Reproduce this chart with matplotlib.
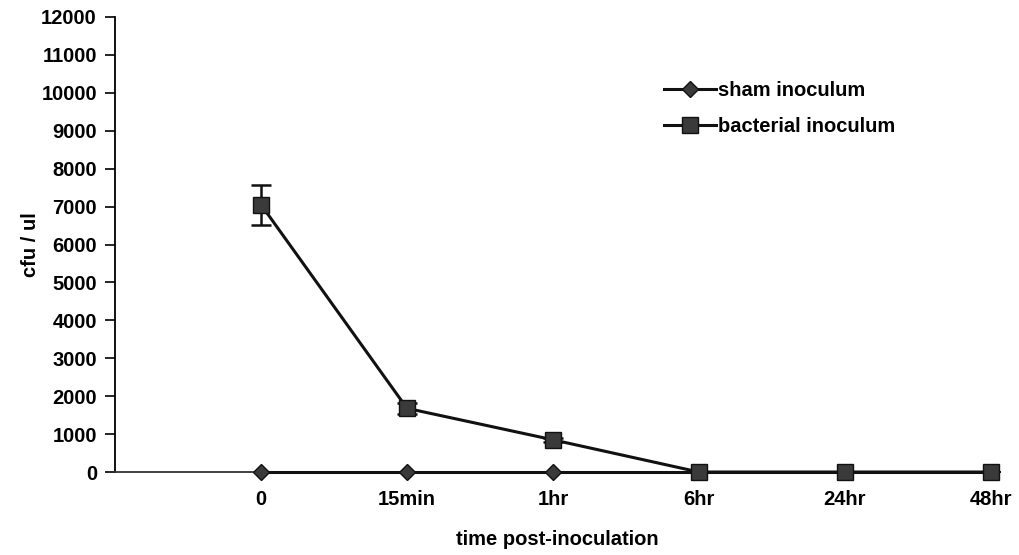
import matplotlib
matplotlib.use("Agg")
import matplotlib.pyplot as plt
from matplotlib.lines import Line2D

categories = ["0", "15min", "1hr", "6hr", "24hr", "48hr"]
sham = [0, 0, 0, 0, 0, 0]
bacterial = [7050, 1680, 850, 0, 0, 0]
bacterial_err = [530, 150, 60, 0, 0, 0]
yticks = list(range(0, 12001, 1000))

plt.rcParams['font.family'] = ['Liberation Sans', 'DejaVu Sans']
plt.rcParams['font.weight'] = 'bold'

fig = plt.figure(figsize=(10.19, 5.55), dpi=100)
ax = fig.add_axes([0.1129, 0.1495, 0.981 - 0.1129, 0.9694 - 0.1495])

x = list(range(len(categories)))
ax.plot(x, sham, color='#111111', lw=2.2, marker='D', ms=8,
        markerfacecolor='#3a3a3a', markeredgecolor='#111111', zorder=3, clip_on=False)
eb = ax.errorbar(x, bacterial, yerr=bacterial_err, color='#111111', lw=2.2,
                 marker='s', ms=11, markerfacecolor='#3a3a3a', markeredgecolor='#111111',
                 ecolor='#111111', elinewidth=1.8, capsize=7, capthick=1.8, zorder=4)
eb.lines[0].set_clip_on(False)

ax.set_xlim(-1, 5.06)
ax.set_ylim(0, 12000)
ax.set_yticks(yticks)
ax.set_yticklabels([str(v) for v in yticks], fontsize=14.5, fontweight='bold')
ax.set_xticks(x)
ax.set_xticklabels(categories, fontsize=14.5, fontweight='bold')
ax.tick_params(axis='x', length=0, pad=13)
ax.tick_params(axis='y', length=7, width=1.2, direction='out', pad=6)
for s in ['top', 'right']:
    ax.spines[s].set_visible(False)
ax.spines['left'].set_linewidth(1.3)
ax.spines['bottom'].set_linewidth(1.3)
ax.spines['bottom'].set_color('#333333')

ax.set_ylabel("cfu / ul", fontsize=14.5, fontweight='bold', labelpad=1)
ax.set_xlabel("time post-inoculation", fontsize=14.5, fontweight='bold', labelpad=15)

handles = [
    Line2D([], [], color='#111111', lw=2.2, marker='D', ms=8,
           markerfacecolor='#3a3a3a', markeredgecolor='#111111'),
    Line2D([], [], color='#111111', lw=2.2, marker='s', ms=11,
           markerfacecolor='#3a3a3a', markeredgecolor='#111111'),
]
leg = ax.legend(handles, ["sham inoculum", "bacterial inoculum"], loc='upper left',
                bbox_to_anchor=(0.6, 0.9), frameon=False,
                handlelength=2.6, handletextpad=0.1, labelspacing=0.85,
                prop={'weight': 'bold', 'size': 14.5})

fig.savefig("out.png", dpi=100)
